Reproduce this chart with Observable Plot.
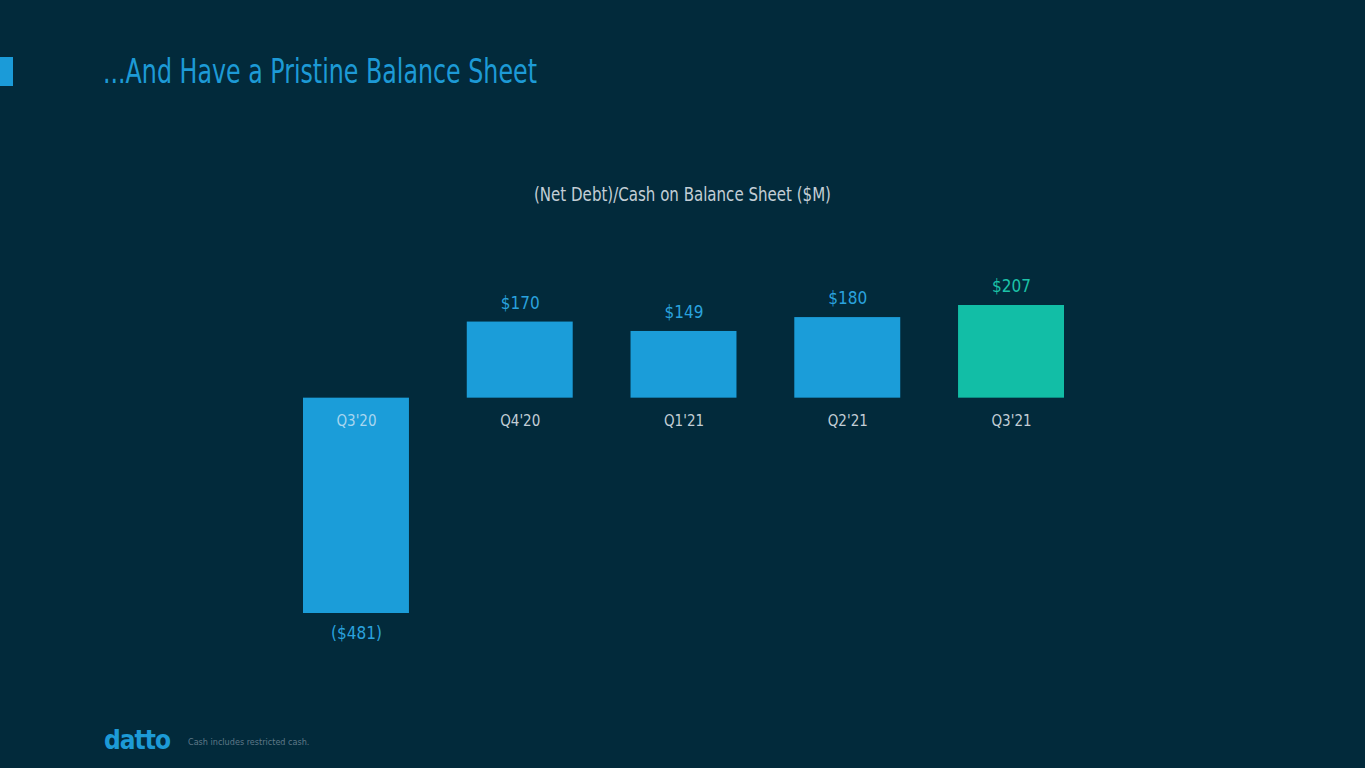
<!DOCTYPE html>
<html>
<head>
<meta charset="utf-8">
<script src="https://cdn.jsdelivr.net/npm/d3@7"></script>
<script src="https://cdn.jsdelivr.net/npm/@observablehq/plot@0.6"></script>
<style>
  html, body { margin: 0; padding: 0; }
  body {
    width: 1365px; height: 768px; overflow: hidden; position: relative;
    background: #022a3b;
    font-family: "DejaVu Sans", sans-serif;
    font-stretch: condensed;
  }
  #accent { position: absolute; left: 0; top: 57px; width: 13px; height: 29px; background: #1b9bd8; }
  #title { position: absolute; left: 103px; top: 51px; font-size: 33px; color: #1d9ad6; line-height: 42px; white-space: nowrap; transform-origin: left center; transform: scaleX(0.8); }
  #subtitle { position: absolute; left: 0; width: 1365px; top: 181px; text-align: center; font-size: 19px; color: #c3ced6; line-height: 26px; transform-origin: center center; transform: scaleX(0.88); }
  #chart { position: absolute; left: 0; top: 230px; }
  #logo { position: absolute; left: 104px; top: 722px; font-weight: bold; font-size: 26px; color: #1d9ad6; letter-spacing: -1px; line-height: 36px; }
  #note { position: absolute; left: 188px; top: 735px; font-size: 9px; color: #5e7888; line-height: 14px; }
  #chart g[aria-label="values"] text { letter-spacing: -0.8px; }
  #chart g[aria-label="categories"] text { letter-spacing: -0.4px; }
</style>
</head>
<body>
<div id="accent"></div>
<div id="title">...And Have a Pristine Balance Sheet</div>
<div id="subtitle">(Net Debt)/Cash on Balance Sheet ($M)</div>
<div id="chart"></div>
<div id="logo">datto</div>
<div id="note">Cash includes restricted cash.</div>
<script>
const quarters = ["Q3'20", "Q4'20", "Q1'21", "Q2'21", "Q3'21"];
const values = [-481, 170, 149, 180, 207];
const highlighted = "Q3'21";

const data = quarters.map((q, i) => ({quarter: q, value: values[i]}));
const BLUE = "#1b9dd9", TEAL = "#12bea6";
const fmt = v => v < 0 ? `($${-v})` : `$${v}`;

const chart = Plot.plot({
  width: 1365,
  height: 430,
  marginLeft: 303,
  marginRight: 301,
  marginTop: 75,
  marginBottom: 47,
  style: {background: "transparent", fontFamily: "\"DejaVu Sans\", sans-serif", fontStretch: "condensed"},
  x: {domain: quarters, paddingInner: 0.353, paddingOuter: 0, round: false, axis: null},
  y: {domain: [-481, 207], axis: null},
  color: {type: "identity"},
  marks: [
    Plot.barY(data, {x: "quarter", y: "value", fill: d => d.quarter === highlighted ? TEAL : BLUE}),
    Plot.text(data.filter(d => d.value >= 0), {
      ariaLabel: "values",
      x: "quarter", y: "value", text: d => fmt(d.value), dy: -19,
      fill: d => d.quarter === highlighted ? "#1cc2a8" : "#2aa2de", fontSize: 17
    }),
    Plot.text(data.filter(d => d.value < 0), {
      ariaLabel: "values",
      x: "quarter", y: "value", text: d => fmt(d.value), dy: 20,
      fill: "#2aa2de", fontSize: 17
    }),
    Plot.text(data, {
      ariaLabel: "categories",
      x: "quarter", y: () => 0, text: "quarter", dy: 23,
      fill: d => d.value < 0 ? "#a9d6ef" : "#c3ced6", fontSize: 15
    })
  ]
});
document.getElementById("chart").appendChild(chart);
</script>
</body>
</html>
